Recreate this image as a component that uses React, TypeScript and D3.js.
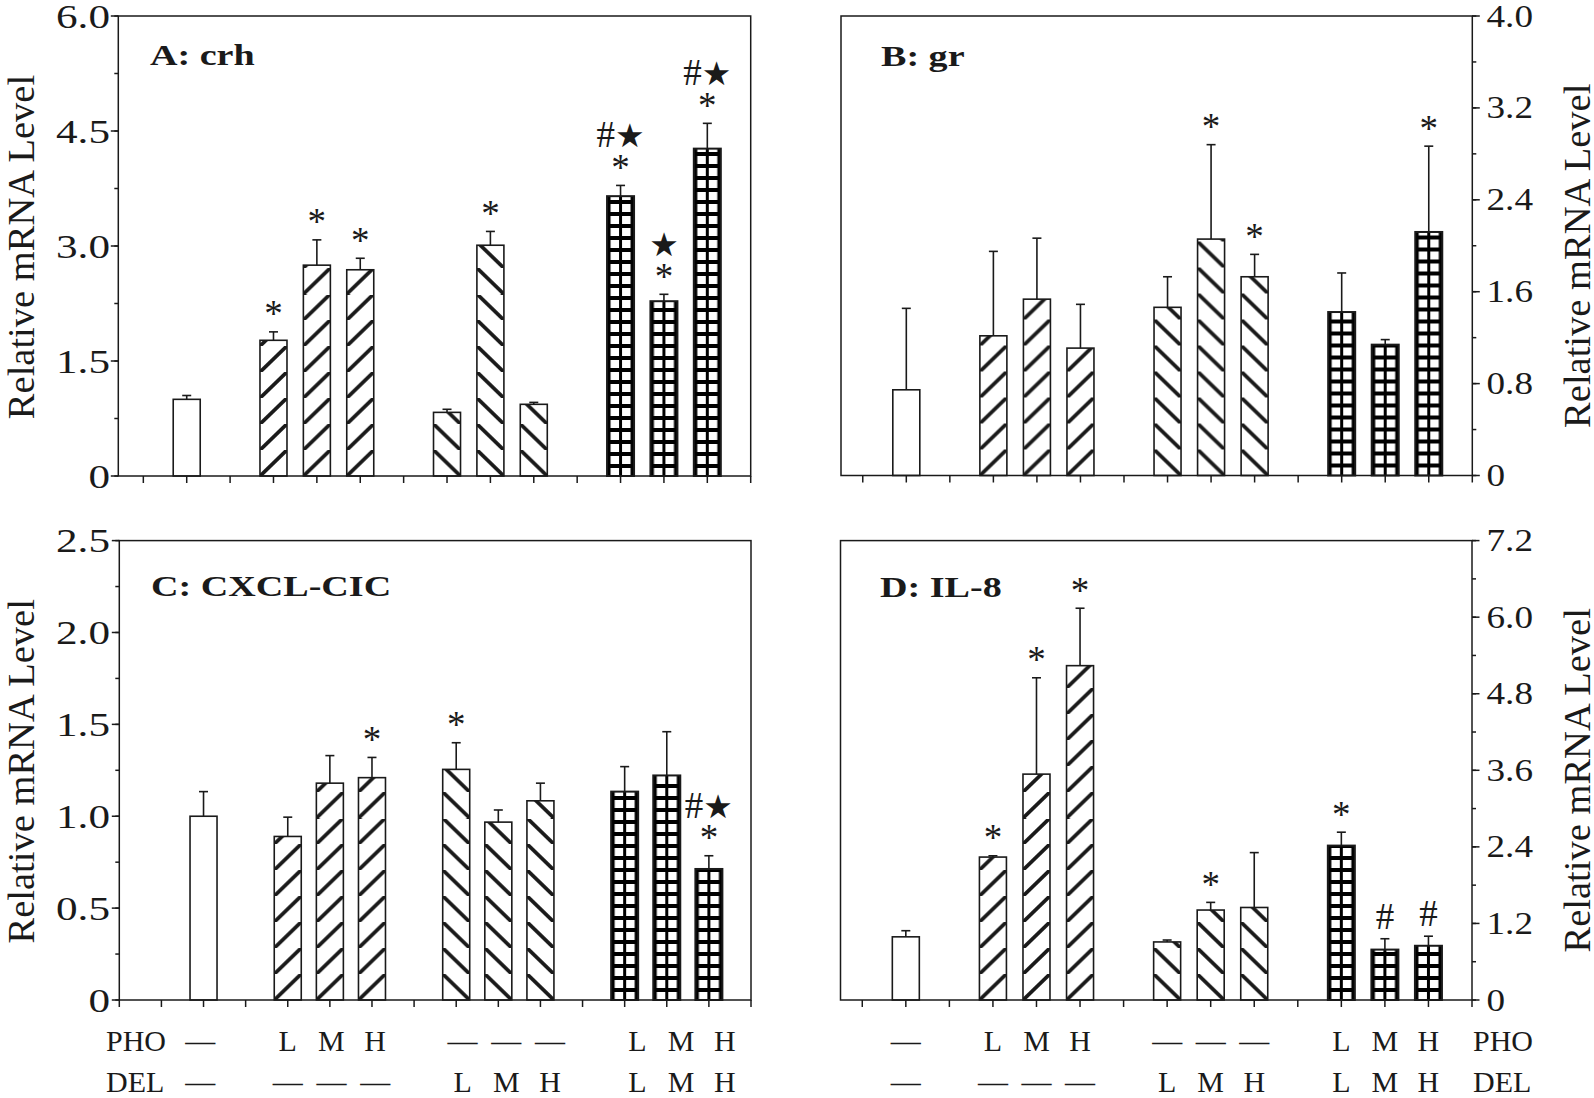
import React from 'react';
import * as d3 from 'd3';

// ---------- data ----------
const slots = [1, 3, 4, 5, 7, 8, 9, 11, 12, 13];
const fills = ['open', 'fwd', 'fwd', 'fwd', 'back', 'back', 'back', 'grid', 'grid', 'grid'];

const crhMean = [1.0, 1.77, 2.75, 2.69, 0.83, 3.01, 0.935, 3.65, 2.28, 4.27];
const crhUpper = [1.05, 1.88, 3.08, 2.84, 0.87, 3.19, 0.96, 3.79, 2.37, 4.6];
const crhMarks = ['', '*', '*', '*', '', '*', '', '*|#★', '*|★', '*|#★'];

const grMean = [0.746, 1.216, 1.535, 1.109, 1.464, 2.058, 1.73, 1.423, 1.139, 2.12];
const grUpper = [1.455, 1.951, 2.066, 1.49, 1.73, 2.88, 1.925, 1.763, 1.183, 2.867];
const grMarks = ['', '', '', '', '', '*', '*', '', '', '*'];

const cxclMean = [1.0, 0.89, 1.18, 1.21, 1.255, 0.968, 1.084, 1.134, 1.222, 0.713];
const cxclUpper = [1.134, 0.995, 1.33, 1.32, 1.4, 1.034, 1.18, 1.27, 1.46, 0.785];
const cxclMarks = ['', '', '', '*', '*', '', '', '', '', '*|#★'];

const il8Mean = [0.99, 2.24, 3.54, 5.24, 0.91, 1.41, 1.45, 2.42, 0.79, 0.85];
const il8Upper = [1.086, 2.26, 5.05, 6.14, 0.94, 1.53, 2.31, 2.63, 0.96, 1.0];
const il8Marks = ['', '*', '*', '*', '', '*', '', '*', '#', '#'];

const phoLabels = ['—', 'L', 'M', 'H', '—', '—', '—', 'L', 'M', 'H'];
const delLabels = ['—', '—', '—', '—', 'L', 'M', 'H', 'L', 'M', 'H'];

const ticksA = [0, 1.5, 3.0, 4.5, 6.0];
const tickLabelsA = ['0', '1.5', '3.0', '4.5', '6.0'];
const ticksB = [0, 0.8, 1.6, 2.4, 3.2, 4.0];
const tickLabelsB = ['0', '0.8', '1.6', '2.4', '3.2', '4.0'];
const ticksC = [0, 0.5, 1.0, 1.5, 2.0, 2.5];
const tickLabelsC = ['0', '0.5', '1.0', '1.5', '2.0', '2.5'];
const ticksD = [0, 1.2, 2.4, 3.6, 4.8, 6.0, 7.2];
const tickLabelsD = ['0', '1.2', '2.4', '3.6', '4.8', '6.0', '7.2'];

// ---------- layout ----------
const W = 1594;
const H = 1098;
const SERIF = '"Liberation Serif", "Times New Roman", serif';
const BW = 27;
const INK = '#1a1a1a';

type PanelCfg = {
  key: string;
  left: number; right: number; top: number; bottom: number;
  xMin: number; yMax: number;
  ticks: number[]; tickLabels: string[]; minorStep: number;
  axis: 'left' | 'right';
  title: string; titleX: number; titleY: number;
  mean: number[]; upper: number[]; marks: string[];
  xTickMin: number;
  labelSide: 'none' | 'left' | 'right';
  labelShift: number;
};

const panels: PanelCfg[] = [
  { key: 'A', left: 118.3, right: 750.7, top: 16, bottom: 476, xMin: -0.577, yMax: 6,
    ticks: ticksA, tickLabels: tickLabelsA, minorStep: 0.75, axis: 'left',
    title: 'A: crh', titleX: 150, titleY: 65, mean: crhMean, upper: crhUpper, marks: crhMarks,
    xTickMin: 0, labelSide: 'none', labelShift: 0 },
  { key: 'B', left: 841, right: 1472.3, top: 16, bottom: 475.5, xMin: -0.5, yMax: 4,
    ticks: ticksB, tickLabels: tickLabelsB, minorStep: 0.4, axis: 'right',
    title: 'B: gr', titleX: 881, titleY: 66, mean: grMean, upper: grUpper, marks: grMarks,
    xTickMin: 0, labelSide: 'none', labelShift: 0 },
  { key: 'C', left: 119.3, right: 751, top: 540.6, bottom: 1000, xMin: -1, yMax: 2.5,
    ticks: ticksC, tickLabels: tickLabelsC, minorStep: 0.25, axis: 'left',
    title: 'C: CXCL-CIC', titleX: 151, titleY: 596, mean: cxclMean, upper: cxclUpper, marks: cxclMarks,
    xTickMin: -1, labelSide: 'left', labelShift: 1.6 },
  { key: 'D', left: 840.5, right: 1472, top: 540.6, bottom: 1000, xMin: -0.5, yMax: 7.2,
    ticks: ticksD, tickLabels: tickLabelsD, minorStep: 0.6, axis: 'right',
    title: 'D: IL-8', titleX: 880, titleY: 597, mean: il8Mean, upper: il8Upper, marks: il8Marks,
    xTickMin: 0, labelSide: 'right', labelShift: 0 },
];

function STxt(props: { x: number; y: number; fs: number; sx?: number; anchor?: string; weight?: string; family?: string; children: React.ReactNode }) {
  const { x, y, fs, sx = 1, anchor = 'start', weight = 'normal', family = SERIF, children } = props;
  return (
    <text transform={`translate(${x},${y}) scale(${sx},1)`} fontSize={fs} textAnchor={anchor}
      fontWeight={weight} fontFamily={family} fill={INK}>
      {children}
    </text>
  );
}

function Mark({ x, cy, text }: { x: number; cy: number; text: string }) {
  if (text === '*') {
    return <STxt x={x} y={cy + 0.47 * 37} fs={37} anchor="middle">*</STxt>;
  }
  const hasHash = text.includes('#');
  const hasStar = text.includes('★');
  return (
    <text x={x} y={cy + 0.35 * 37} fontSize={37} textAnchor="middle" fontFamily={SERIF} fill={INK}>
      {hasHash && <tspan fontFamily={SERIF}>#</tspan>}
      {hasStar && <tspan fontFamily='"DejaVu Sans", sans-serif' fontSize={33}>★</tspan>}
    </text>
  );
}

function Panel({ p }: { p: PanelCfg }) {
  const x = d3.scaleLinear().domain([p.xMin, 14]).range([p.left, p.right]);
  const y = d3.scaleLinear().domain([0, p.yMax]).range([p.bottom, p.top]);
  const minor = d3.range(0, p.yMax + 1e-9, p.minorStep);
  const xTicks = d3.range(p.xTickMin, 15, 1);
  const labelX = (k: number) => x(k) + (k - 3) * p.labelShift;
  const axisX = p.axis === 'left' ? p.left : p.right;
  const dir = p.axis === 'left' ? -1 : 1;

  return (
    <g>
      <defs>
        {slots.map((s, i) => {
          const bx = x(s) - BW / 2;
          const id = `pat-${p.key}-${i}`;
          if (fills[i] === 'fwd') {
            return (
              <pattern key={id} id={id} patternUnits="userSpaceOnUse" x={bx} y={p.bottom} width={BW} height={26}>
                <rect width={BW} height={26} fill="#fff" />
                <line x1={-1} y1={27} x2={BW + 1} y2={-1} stroke={INK} strokeWidth={3.8} />
              </pattern>
            );
          }
          if (fills[i] === 'back') {
            return (
              <pattern key={id} id={id} patternUnits="userSpaceOnUse" x={bx} y={p.bottom} width={BW} height={26}>
                <rect width={BW} height={26} fill="#fff" />
                <line x1={-1} y1={-1} x2={BW + 1} y2={27} stroke={INK} strokeWidth={3.8} />
              </pattern>
            );
          }
          if (fills[i] === 'grid') {
            const lw = 3.5;
            const ww = (BW - 2 * lw - 3) / 2;
            return (
              <pattern key={id} id={id} patternUnits="userSpaceOnUse" x={bx} y={p.bottom} width={BW} height={12}>
                <rect width={BW} height={12} fill="#000" />
                <rect x={lw} y={4} width={ww} height={8} fill="#fff" />
                <rect x={lw + ww + 3} y={4} width={ww} height={8} fill="#fff" />
              </pattern>
            );
          }
          return null;
        })}
      </defs>

      {/* bars */}
      {slots.map((s, i) => {
        const bx = x(s) - BW / 2;
        const top = y(p.mean[i]);
        const fill = fills[i] === 'open' ? '#fff' : `url(#pat-${p.key}-${i})`;
        return (
          <rect key={`bar-${i}`} x={bx} y={top} width={BW} height={p.bottom - top}
            fill={fill} stroke={INK} strokeWidth={fills[i] === 'grid' ? 2 : 1.6} />
        );
      })}

      {/* error bars */}
      {slots.map((s, i) => {
        const cx = x(s);
        const t = y(p.mean[i]);
        const u = y(p.upper[i]);
        return (
          <g key={`err-${i}`} stroke={INK} strokeWidth={1.6}>
            <line x1={cx} x2={cx} y1={t} y2={u} />
            <line x1={cx - 4.5} x2={cx + 4.5} y1={u} y2={u} />
          </g>
        );
      })}

      {/* significance marks */}
      {slots.map((s, i) => {
        if (!p.marks[i]) return null;
        const parts = p.marks[i].split('|');
        const base = y(p.upper[i]) - 23;
        return (
          <g key={`mk-${i}`}>
            {parts.map((t, j) => (
              <Mark key={j} x={x(s)} cy={base - j * 28} text={t} />
            ))}
          </g>
        );
      })}

      {/* frame */}
      <rect x={p.left} y={p.top} width={p.right - p.left} height={p.bottom - p.top}
        fill="none" stroke={INK} strokeWidth={1.5} />

      {/* x ticks */}
      {xTicks.map((k) => (
        <line key={`xt-${k}`} x1={x(k)} x2={x(k)} y1={p.bottom} y2={p.bottom + 7} stroke={INK} strokeWidth={1.5} />
      ))}

      {/* y minor ticks */}
      {minor.map((v, i) => (
        <line key={`mn-${i}`} x1={axisX} x2={axisX + dir * 4} y1={y(v)} y2={y(v)} stroke={INK} strokeWidth={1.5} />
      ))}
      {/* y major ticks + labels */}
      {p.ticks.map((v, i) => (
        <g key={`mj-${i}`}>
          <line x1={axisX} x2={axisX + dir * 7.5} y1={y(v)} y2={y(v)} stroke={INK} strokeWidth={1.5} />
          {p.axis === 'left' ? (
            <STxt x={110} y={y(v) + 0.34 * 34} fs={34} sx={1.27} anchor="end">{p.tickLabels[i]}</STxt>
          ) : (
            <STxt x={1486.5} y={y(v) + 0.34 * 31} fs={31} sx={1.2} anchor="start">{p.tickLabels[i]}</STxt>
          )}
        </g>
      ))}

      {/* axis title */}
      {p.axis === 'left' ? (
        <text transform={`translate(34,${(p.top + p.bottom) / 2 + 1}) rotate(-90)`} fontSize={38.5}
          textAnchor="middle" fontFamily={SERIF} fill={INK}>Relative mRNA Level</text>
      ) : (
        <text transform={`translate(1590,${(p.top + p.bottom) / 2 + 10}) rotate(-90)`} fontSize={38.5}
          textAnchor="middle" fontFamily={SERIF} fill={INK}>Relative mRNA Level</text>
      )}

      {/* panel title */}
      <STxt x={p.titleX} y={p.titleY} fs={30} sx={1.27} weight="bold">{p.title}</STxt>

      {/* treatment labels */}
      {p.labelSide !== 'none' && (
        <g>
          {slots.map((s, i) => (
            <g key={`lb-${i}`}>
              <STxt x={labelX(s)} y={1051} fs={30} anchor="middle">{phoLabels[i]}</STxt>
              <STxt x={labelX(s)} y={1092} fs={30} anchor="middle">{delLabels[i]}</STxt>
            </g>
          ))}
          {p.labelSide === 'left' ? (
            <g>
              <STxt x={106} y={1051} fs={30}>PHO</STxt>
              <STxt x={106} y={1092} fs={30}>DEL</STxt>
            </g>
          ) : (
            <g>
              <STxt x={1473} y={1051} fs={30}>PHO</STxt>
              <STxt x={1473} y={1092} fs={30}>DEL</STxt>
            </g>
          )}
        </g>
      )}
    </g>
  );
}

export default function App() {
  return (
    <div style={{ position: 'absolute', left: 0, top: 0 }}>
      <svg width={W} height={H} viewBox={`0 0 ${W} ${H}`} style={{ display: 'block', background: '#fff' }}>
        <rect width={W} height={H} fill="#fff" />
        {panels.map((p) => <Panel key={p.key} p={p} />)}
      </svg>
    </div>
  );
}
